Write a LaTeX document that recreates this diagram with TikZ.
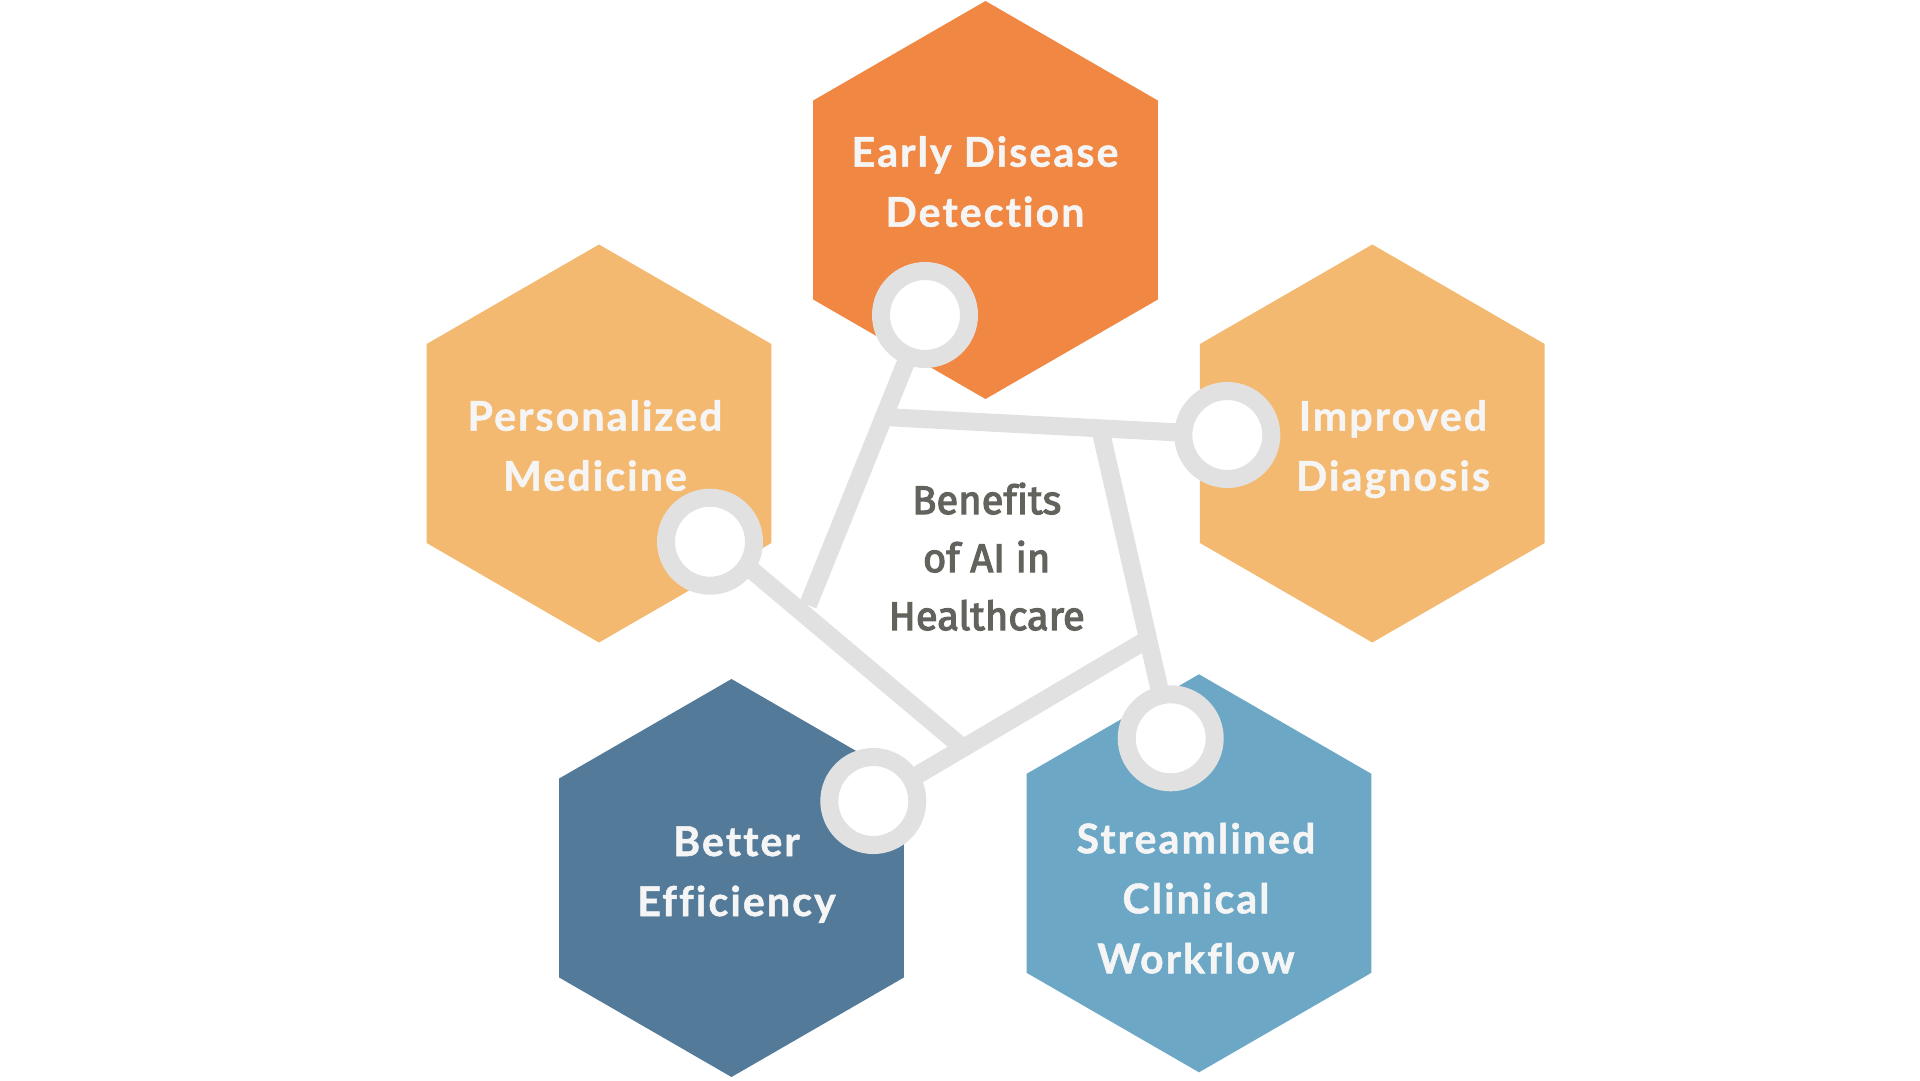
\documentclass[tikz,border=0pt]{standalone}
\usepackage{fontspec}
\usetikzlibrary{shapes.geometric}
\newfontfamily\labelfont{Lato}[Ligatures={NoCommon}, LetterSpace=5.2, FakeBold=1.2]
\newfontfamily\centerfont{Fira Sans}[Ligatures={NoCommon}, FakeBold=3]
\definecolor{orangeA}{HTML}{F08843}
\definecolor{orangeB}{HTML}{F4B970}
\definecolor{blueA}{HTML}{537B99}
\definecolor{blueB}{HTML}{6CA7C6}
\definecolor{ringgray}{HTML}{E1E1E1}
\definecolor{labelwhite}{HTML}{F5F5F5}
\definecolor{centergray}{HTML}{63635E}
\begin{document}
\begin{tikzpicture}[x=1pt,y=-1pt,
  hexa/.style={regular polygon, regular polygon sides=6, shape border rotate=30,
    minimum size=398pt, inner sep=0pt, outer sep=0pt, draw=none},
  lbl/.style={font=\labelfont\bfseries\fontsize{41}{60}\selectfont, text=labelwhite,
    align=center, inner sep=0pt, anchor=base},
  ctr/.style={font=\centerfont\fontsize{40}{58}\selectfont, text=centergray,
    align=center, inner sep=0pt, anchor=base},
  link/.style={draw=ringgray, line width=18pt},
  ring/.style={circle, draw=ringgray, line width=18pt, fill=white,
    minimum size=88pt, inner sep=0pt, outer sep=0pt}]
\useasboundingbox[fill=white] (0,0) rectangle (1920,1080);
% hexagons
\node[hexa, fill=orangeA] (h1) at (985.5,200) {};
\node[hexa, fill=orangeB] (h2) at (599,443.5) {};
\node[hexa, fill=orangeB] (h3) at (1372.3,443.5) {};
\node[hexa, fill=blueA]   (h4) at (731.5,878) {};
\node[hexa, fill=blueB]   (h5) at (1199,873.3) {};
% labels (anchored at the baseline of their last line)
\node[lbl] (t1) at (985,226.7) {Early Disease\\Detection};
\node[lbl] (t2) at (595,490.7) {Personalized\\Medicine};
\node[lbl] (t3) at (1393,490.7) {Improved\\Diagnosis};
\node[lbl] (t4) at (736.5,916) {Better\\Efficiency};
\node[lbl] (t5) at (1196,973.3) {Streamlined\\Clinical\\Workflow};
\node[ctr] (t0) at (986.7,630) {Benefits\\of AI in\\Healthcare};
% ring positions
\coordinate (c1p) at (925,315);
\coordinate (c2p) at (1227.3,435);
\coordinate (c3p) at (710,541.7);
\coordinate (c4p) at (873.3,801);
\coordinate (c5p) at (1170.7,738.3);
% junction points
\coordinate (p1) at (808,605);
\coordinate (p2) at (884,417);
\coordinate (p3) at (1100,428);
\coordinate (p4) at (710,535);
\coordinate (p5) at (962,747);
\coordinate (p6) at (1143,642);
% links
\draw[link] (c1p) -- (p1);
\draw[link] (p2) -- (c2p);
\draw[link] (p3) -- (c5p);
\draw[link] (p4) -- (p5);
\draw[link] (c4p) -- (p6);
% rings
\node[ring] (c1) at (c1p) {};
\node[ring] (c2) at (c2p) {};
\node[ring] (c3) at (c3p) {};
\node[ring] (c4) at (c4p) {};
\node[ring] (c5) at (c5p) {};
\end{tikzpicture}
\end{document}
